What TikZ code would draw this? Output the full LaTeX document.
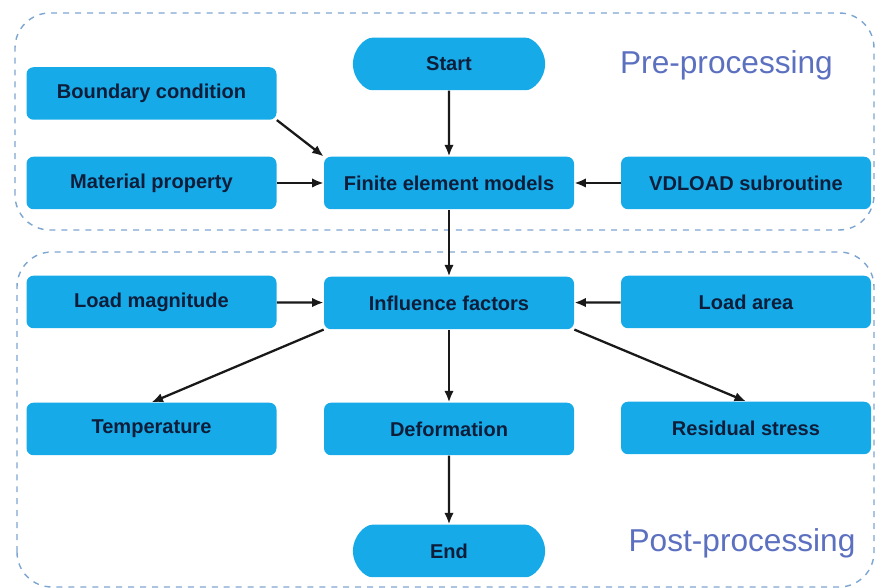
\documentclass[tikz,border=0pt]{standalone}
\usepackage{fontspec}
\setmainfont{Liberation Sans}
\usetikzlibrary{shapes.misc,arrows.meta}

\definecolor{boxblue}{RGB}{22,170,232}
\definecolor{boxtext}{RGB}{14,30,58}
\definecolor{frameblue}{RGB}{125,165,210}
\definecolor{stageblue}{RGB}{92,112,192}

\begin{document}
\begin{tikzpicture}[
    box/.style={rectangle, rounded corners=0.14cm, fill=boxblue, text=boxtext,
        minimum width=5.0cm, minimum height=1.05cm,
        font=\bfseries\fontsize{11.4}{13}\selectfont},
    terminal/.style={box, rounded rectangle, minimum width=4.08cm},
    frame/.style={dashed, dash pattern=on 3.4pt off 3.4pt, frameblue, line width=0.8pt, rounded corners=0.7cm},
    stage/.style={text=stageblue, font=\fontsize{18}{22}\selectfont},
    flow/.style={-{Latex[length=2.3mm,width=1.9mm]}, line width=1.3pt, black!90}
]
    \useasboundingbox (0,0) rectangle (17.52,11.76);

    % Dashed stage frames
    \draw[frame] (0.3,7.16) rectangle (17.48,11.5);
    \draw[frame] (0.34,0.02) rectangle (17.48,6.72);
    \node[stage] (pre) at (14.53,10.46) {Pre-processing};
    \node[stage] (post) at (14.84,0.9) {Post-processing};

    % Pre-processing nodes
    \node[terminal] (start) at (8.98,10.48) {Start};
    \node[box] (bc) at (3.03,9.89) {Boundary condition};
    \node[box] (mat) at (3.03,8.10) {Material property};
    \node[box] (fem) at (8.98,8.10) {Finite element models};
    \node[box] (vdl) at (14.92,8.10) {VDLOAD subroutine};

    % Post-processing nodes
    \node[box] (mag) at (3.03,5.72) {Load magnitude};
    \node[box] (inf) at (8.98,5.70) {Influence factors};
    \node[box] (area) at (14.92,5.72) {Load area};
    \node[box] (temp) at (3.03,3.18) {Temperature};
    \node[box] (def) at (8.98,3.18) {Deformation};
    \node[box] (res) at (14.92,3.20) {Residual stress};
    \node[terminal] (end) at (8.98,0.74) {End};

    % Arrows
    \draw[flow] (start) -- (fem);
    \draw[flow] (bc.south east) -- (fem.north west);
    \draw[flow] (mat) -- (fem);
    \draw[flow] (vdl) -- (fem);
    \draw[flow] (fem) -- (inf);
    \draw[flow] (mag) -- (inf);
    \draw[flow] (area) -- (inf);
    \draw[flow] (inf.south west) -- (temp.north);
    \draw[flow] (inf) -- (def);
    \draw[flow] (inf.south east) -- (res.north);
    \draw[flow] (def) -- (end);

\end{tikzpicture}
\end{document}
